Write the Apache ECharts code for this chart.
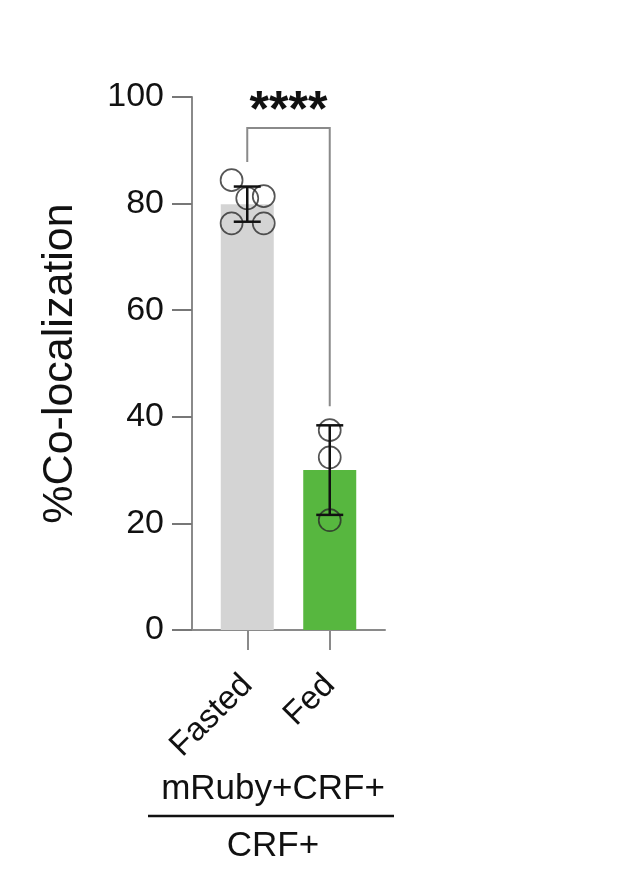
<!DOCTYPE html>
<html>
<head>
<meta charset="utf-8">
<script src="https://cdn.jsdelivr.net/npm/echarts@6/dist/echarts.min.js"></script>
<style>
  html, body { margin: 0; padding: 0; background: #fff; }
  #main { width: 642px; height: 887px; }
</style>
</head>
<body>
<div id="main"></div>
<script>
// data
const categories = ['Fasted', 'Fed']
const means = [79.9, 30.0]
const sds = [3.3, 8.4]
const barColors = ['#d4d4d4', '#57b73f']

// individual points (category index, value, horizontal jitter in category units)
const pointCat = [0, 0, 0, 0, 0, 1, 1, 1]
const pointVal = [84.4, 81.0, 81.4, 76.3, 76.3, 37.5, 32.4, 20.6]
const pointJitter = [-0.19, 0, 0.2, -0.19, 0.2, 0, 0, 0]

// significance bracket: left leg bottom, top, right leg bottom
const bracket = [87.8, 94.2, 42.0]
const sigLabel = '****'

const yTicks = [0, 20, 40, 60, 80, 100]

const font = "'Liberation Sans', Arial, sans-serif"
const myChart = echarts.init(document.getElementById('main'))

// categories sit at x = 1, 2 on a value axis
const catX = categories.map((c, i) => i + 1)

myChart.setOption({
    animation: false,
    grid: { left: 192, top: 97, width: 193, height: 533 },
    xAxis: {
        type: 'value',
        min: 0.33,
        max: 2.67,
        splitLine: { show: false },
        axisLine: { show: true, lineStyle: { color: '#8a8a8a', width: 2 } },
        axisTick: { show: true, customValues: catX, length: 20, lineStyle: { color: '#8a8a8a', width: 2 } },
        axisLabel: {
            customValues: catX,
            formatter: v => categories[Math.round(v) - 1],
            rotate: 45,
            margin: 50,
            fontSize: 33,
            color: '#111',
            fontFamily: font
        }
    },
    yAxis: {
        type: 'value',
        min: yTicks[0],
        max: yTicks[yTicks.length - 1],
        interval: 20,
        name: '%Co-localization',
        nameLocation: 'middle',
        nameGap: 110,
        nameTextStyle: { fontSize: 43, color: '#111', fontFamily: font },
        splitLine: { show: false },
        axisLine: { show: true, lineStyle: { color: '#8a8a8a', width: 2 } },
        axisTick: { show: true, length: 20, lineStyle: { color: '#777', width: 2 } },
        axisLabel: { fontSize: 34, color: '#111', margin: 28, fontFamily: font }
    },
    series: [
        {
            type: 'bar',
            barWidth: 53,
            data: means.map((m, i) => ({ value: [catX[i], m], itemStyle: { color: barColors[i] } })),
            z: 1
        },
        {
            type: 'custom',
            data: means.map((m, i) => [catX[i], m, sds[i]]),
            renderItem: (params, api) => {
                const x = api.value(0)
                const m = api.value(1)
                const s = api.value(2)
                const top = api.coord([x, m + s])
                const bot = api.coord([x, m - s])
                const hw = 13.5
                const st = { stroke: '#111', lineWidth: 2.5 }
                return {
                    type: 'group',
                    children: [
                        { type: 'line', shape: { x1: top[0], y1: top[1], x2: bot[0], y2: bot[1] }, style: st },
                        { type: 'line', shape: { x1: top[0] - hw, y1: top[1], x2: top[0] + hw, y2: top[1] }, style: st },
                        { type: 'line', shape: { x1: bot[0] - hw, y1: bot[1], x2: bot[0] + hw, y2: bot[1] }, style: st }
                    ]
                }
            },
            z: 4
        },
        {
            type: 'scatter',
            symbol: 'circle',
            symbolSize: 22,
            itemStyle: { color: 'rgba(0,0,0,0)', borderColor: '#2a2a2a', borderWidth: 1.7 },
            data: pointVal.map((v, i) => [catX[pointCat[i]] + pointJitter[i], v]),
            z: 3
        },
        {
            type: 'custom',
            data: [[catX[0], catX[1], bracket[0], bracket[1], bracket[2]]],
            renderItem: (params, api) => {
                const a = api.coord([api.value(0), api.value(2)])
                const b = api.coord([api.value(0), api.value(3)])
                const c = api.coord([api.value(1), api.value(3)])
                const d = api.coord([api.value(1), api.value(4)])
                return {
                    type: 'group',
                    children: [
                        {
                            type: 'polyline',
                            shape: { points: [a, b, c, d] },
                            style: { stroke: '#8a8a8a', lineWidth: 2, fill: null }
                        },
                        {
                            type: 'text',
                            style: {
                                text: sigLabel,
                                x: (b[0] + c[0]) / 2,
                                y: b[1] - 16,
                                align: 'center',
                                verticalAlign: 'middle',
                                font: 'bold 50px ' + font,
                                fill: '#111'
                            }
                        }
                    ]
                }
            },
            z: 2
        }
    ],
    graphic: [
        {
            type: 'text',
            x: 273, y: 789,
            style: { text: 'mRuby+CRF+', align: 'center', verticalAlign: 'middle', font: '35px ' + font, fill: '#111' }
        },
        {
            type: 'line',
            shape: { x1: 148, y1: 816, x2: 394, y2: 816 },
            style: { stroke: '#111', lineWidth: 2.5 }
        },
        {
            type: 'text',
            x: 273, y: 846,
            style: { text: 'CRF+', align: 'center', verticalAlign: 'middle', font: '35px ' + font, fill: '#111' }
        }
    ]
})
</script>
</body>
</html>
